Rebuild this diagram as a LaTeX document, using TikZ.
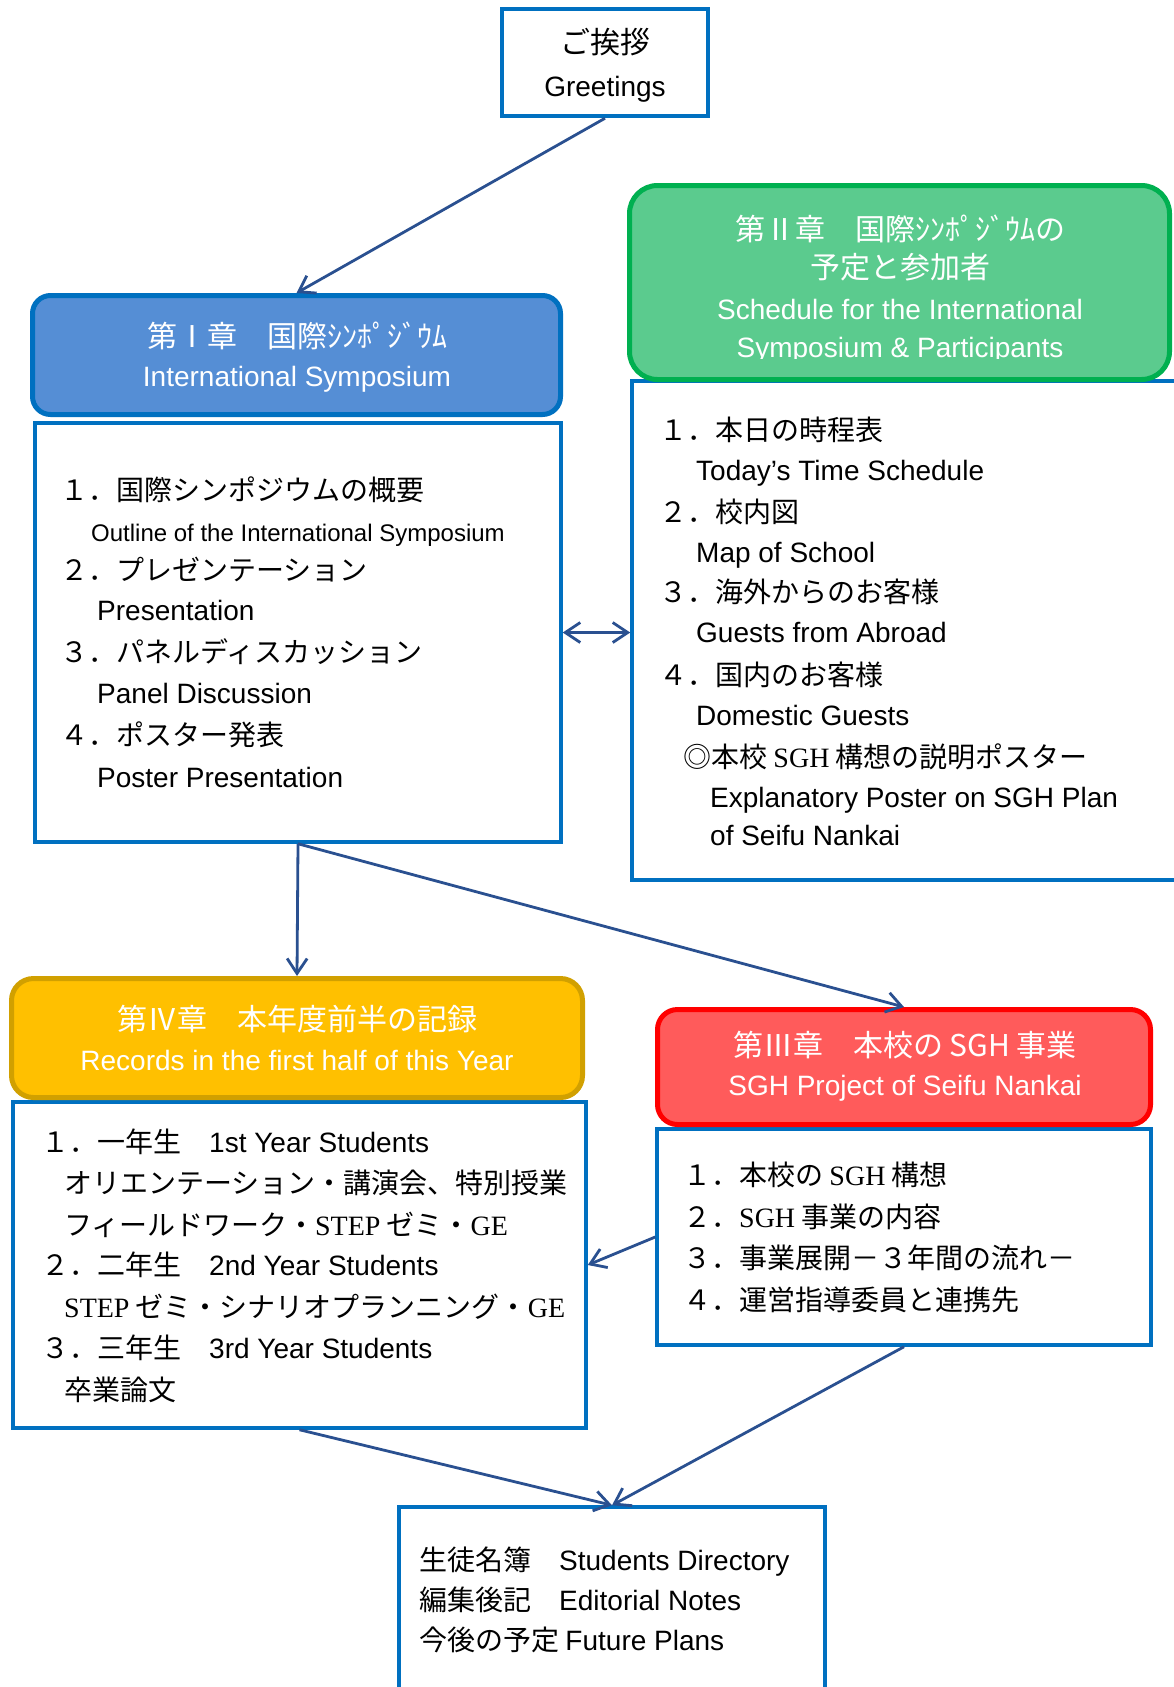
\documentclass[tikz,border=0pt]{standalone}
\usepackage{fontspec}
\setmainfont{Liberation Sans}
\newfontfamily\jpfont{Noto Sans CJK JP}
\newfontfamily\romfont{Liberation Serif}
\usepackage{xcolor}
\usepackage{tikz}
\usetikzlibrary{arrows.meta}
\definecolor{boxblue}{HTML}{0070C0}
\definecolor{linkblue}{HTML}{2A5090}
\definecolor{headblue}{HTML}{558ED5}
\definecolor{headgreen}{HTML}{5BCB8E}
\definecolor{rimgreen}{HTML}{00B050}
\definecolor{headyellow}{HTML}{FFC000}
\definecolor{rimyellow}{HTML}{D1A000}
\definecolor{headred}{HTML}{FF5B5B}
\definecolor{rimred}{HTML}{FF0000}
\newcommand{\bodysize}{\fontsize{28pt}{34pt}\selectfont}
\newcommand{\subsize}{\fontsize{24pt}{29pt}\selectfont}
\newcommand{\headsize}{\fontsize{30pt}{36pt}\selectfont}
\tikzstyle{bodybox}=[rectangle,draw=boxblue,line width=3.5pt,inner sep=0pt]
\tikzstyle{headbox}=[rectangle,rounded corners=18pt,line width=5pt,inner sep=0pt]
\tikzstyle{jpline}=[anchor=base west,inner sep=0pt,font=\bodysize\jpfont]
\tikzstyle{enline}=[anchor=base west,inner sep=0pt,font=\bodysize]
\tikzstyle{link}=[draw=linkblue,line width=2.8pt]
\tikzset{headjp/.style={anchor=base,inner sep=0pt,text=white,font=\headsize\jpfont},
         headen/.style={anchor=base,inner sep=0pt,text=white,font=\bodysize}}

\begin{document}
\begin{tikzpicture}[x=1pt,y=-1pt,>={Straight Barb[length=15pt,width=20pt]}]
    \useasboundingbox (0,0) rectangle (1174,1687);
    % First we draw the list boxes
    \node[bodybox,line width=4.5pt,minimum width=206pt,minimum height=107pt] (greet) at (605,62.5) {};
    \node[bodybox,minimum width=526pt,minimum height=419pt] (ch1body) at (298,632.5) {};
    \node[bodybox,minimum width=558pt,minimum height=499pt] (ch2body) at (911,630.5) {};
    \node[bodybox,minimum width=573pt,minimum height=326pt] (ch4body) at (299.5,1265) {};
    \node[bodybox,minimum width=494pt,minimum height=216pt] (ch3body) at (904,1237) {};
    \node[bodybox,minimum width=426pt,minimum height=213pt] (last) at (612,1613.5) {};
    % then the chapter headers on top
    \node[headbox,draw=boxblue,fill=headblue,minimum width=528pt,minimum height=119pt] (ch1head) at (296.5,355) {};
    \node[headbox,draw=rimgreen,fill=headgreen,rounded corners=28pt,minimum width=540pt,minimum height=194pt] (ch2head) at (899.5,282.5) {};
    \node[headbox,draw=rimyellow,fill=headyellow,rounded corners=22pt,minimum width=571pt,minimum height=119pt] (ch4head) at (297,1038) {};
    \node[headbox,draw=rimred,fill=headred,rounded corners=20pt,minimum width=493pt,minimum height=115pt] (ch3head) at (904,1067) {};

    % Header texts
    \node[headjp,text=black] (greetjp) at (605,53) {ご挨拶};
    \node[headen,text=black] (greeten) at (605,96) {Greetings};
    \foreach \pos/\name/\lbl in {{(297,347)/t1jp/第Ⅰ章　国際ｼﾝﾎﾟｼﾞｳﾑ}, {(297,1030)/t4jp/第Ⅳ章　本年度前半の記録},
    {(905,1056)/t3jp/第Ⅲ章　本校の SGH 事業}}
        \node[headjp] (\name) at \pos {\lbl};
    \foreach \pos/\name/\lbl in {{(297,386)/t1en/International Symposium}, {(297,1070)/t4en/Records in the first half of this Year},
    {(905,1095)/t3en/SGH Project of Seifu Nankai}}
        \node[headen] (\name) at \pos {\lbl};
    \begin{scope}
        \clip (600,180) rectangle (1174,358);
        \node[headjp] (t2jpa) at (900,240) {第Ⅱ章　国際ｼﾝﾎﾟｼﾞｳﾑの};
        \node[headjp] (t2jpb) at (900,278) {予定と参加者};
        \node[headen] (t2ena) at (900,319) {Schedule for the International};
        \node[headen] (t2enb) at (900,357) {Symposium \& Participants};
    \end{scope}

    % Japanese list lines
    \foreach \pos/\name/\lbl in {{(60,500)/a1/１．国際シンポジウムの概要}, {(60,580)/a2/２．プレゼンテーション},
    {(60,662)/a3/３．パネルディスカッション}, {(60,745)/a4/４．ポスター発表},
    {(659,440)/b1/１．本日の時程表}, {(659,522)/b2/２．校内図}, {(659,602)/b3/３．海外からのお客様},
    {(659,685)/b4/４．国内のお客様}, {(683,767)/b5/◎本校 {\romfont SGH} 構想の説明ポスター},
    {(41,1152)/d1/１．一年生　{\rmfamily 1st Year Students}}, {(64,1193)/d2/オリエンテーション・講演会、特別授業},
    {(64,1235)/d3/フィールドワーク・{\romfont STEP} ゼミ・{\romfont GE}}, {(41,1275)/d4/２．二年生　{\rmfamily 2nd Year Students}},
    {(64,1317)/d5/{\romfont STEP} ゼミ・シナリオプランニング・{\romfont GE}}, {(41,1358)/d6/３．三年生　{\rmfamily 3rd Year Students}},
    {(64,1400)/d7/卒業論文},
    {(683,1185)/c1/１．本校の {\romfont SGH} 構想}, {(683,1227)/c2/２．{\romfont SGH} 事業の内容},
    {(683,1268)/c3/３．事業展開－３年間の流れ－}, {(683,1310)/c4/４．運営指導委員と連携先},
    {(419,1570)/e1/生徒名簿　{\rmfamily Students Directory}}, {(419,1610)/e2/編集後記　{\rmfamily Editorial Notes}},
    {(419,1650)/e3/今後の予定 {\rmfamily Future Plans}}}
        \node[jpline] (\name) at \pos {\lbl};
    % English list lines
    \node[enline,font=\subsize] (a1en) at (91,541) {Outline of the International Symposium};
    \foreach \pos/\name/\lbl in {{(97,620)/a2en/Presentation}, {(97,703)/a3en/Panel Discussion},
    {(97,787)/a4en/Poster Presentation}, {(696,480)/b1en/Today’s Time Schedule}, {(696,562)/b2en/Map of School},
    {(696,642)/b3en/Guests from Abroad}, {(696,725)/b4en/Domestic Guests},
    {(710,807)/b5en/Explanatory Poster on SGH Plan}, {(710,845)/b6en/of Seifu Nankai}}
        \node[enline] (\name) at \pos {\lbl};

    % Connect boxes with arrows
    \foreach \source/\dest in {greet.south/ch1head.north, ch1body.south/ch4head.north, ch1body.south/ch3head.north,
    ch3body.west/ch4body.east, ch4body.south/last.north, ch3body.south/last.north}
        \path[link,->] (\source) -- (\dest);
    \path[link,<->] (ch1body.east) -- (ch1body.east -| ch2body.west);
\end{tikzpicture}
\end{document}
